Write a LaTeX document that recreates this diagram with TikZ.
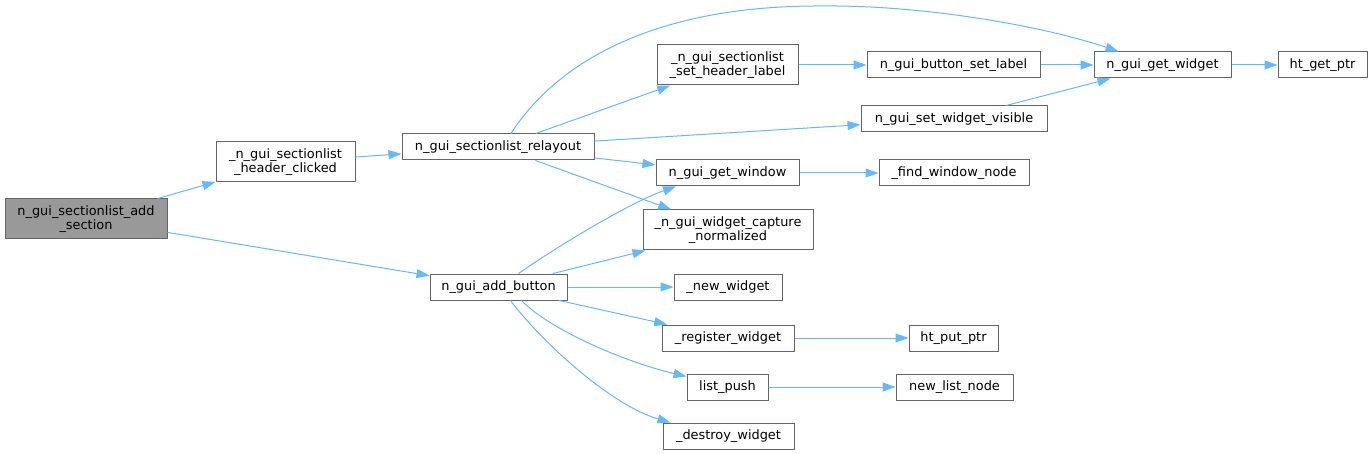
\documentclass[tikz,border=0pt]{standalone}
\usepackage{fontspec}
\setmainfont{DejaVu Sans}
\usetikzlibrary{arrows.meta}
\definecolor{edgec}{HTML}{63B8FF}
\definecolor{boxc}{HTML}{666666}
\definecolor{hl}{HTML}{999999}
\begin{document}
\begin{tikzpicture}[x=1pt,y=-1pt,
  fn/.style={draw=boxc,fill=white,line width=1pt,inner sep=0pt,align=center,
    font=\fontsize{12.9}{14}\selectfont,minimum height=26pt},
  fn2/.style={fn,minimum height=40pt},
  e/.style={draw=edgec,line width=1pt,-{Triangle[length=13pt,width=9pt]}}]
\useasboundingbox (0,0) rectangle (1372,454);
% nodes
\node[fn2,fill=hl,minimum width=162pt] (addsec) at (86,219) {n\_gui\_sectionlist\_add\\\_section};
\node[fn2,minimum width=139pt] (hdr) at (285.5,162) {\_n\_gui\_sectionlist\\\_header\_clicked};
\node[fn,minimum width=192pt] (relayout) at (498,147) {n\_gui\_sectionlist\_relayout};
\node[fn,minimum width=137pt] (addbtn) at (498.5,287) {n\_gui\_add\_button};
\node[fn2,minimum width=141pt] (sethdr) at (727.5,65) {\_n\_gui\_sectionlist\\\_set\_header\_label};
\node[fn,minimum width=173pt] (btnlbl) at (953.5,65) {n\_gui\_button\_set\_label};
\node[fn,minimum width=137pt] (getw) at (1162.5,65) {n\_gui\_get\_widget};
\node[fn,minimum width=89pt] (htget) at (1322.5,65) {ht\_get\_ptr};
\node[fn,minimum width=186pt] (visible) at (954,119) {n\_gui\_set\_widget\_visible};
\node[fn,minimum width=143pt] (getwin) at (727.5,173) {n\_gui\_get\_window};
\node[fn,minimum width=150pt] (findwin) at (954,173) {\_find\_window\_node};
\node[fn2,minimum width=170pt] (capture) at (728,230) {\_n\_gui\_widget\_capture\\\_normalized};
\node[fn,minimum width=108pt] (newwidget) at (728,287) {\_new\_widget};
\node[fn,minimum width=132pt] (register) at (728,338) {\_register\_widget};
\node[fn,minimum width=89pt] (htput) at (953.5,338) {ht\_put\_ptr};
\node[fn,minimum width=81pt] (listpush) at (727.5,387) {list\_push};
\node[fn,minimum width=117pt] (newlist) at (954.5,387) {new\_list\_node};
\node[fn,minimum width=131pt] (destroy) at (728.5,436) {\_destroy\_widget};
% edges
\draw[e] (addsec) -- (hdr);
\draw[e] (addsec) -- (addbtn);
\draw[e] (hdr) -- (relayout);
\draw[e] (relayout) -- (sethdr);
\draw[e] (relayout) -- (visible);
\draw[e] (relayout) -- (getwin);
\draw[e] (relayout) -- (capture);
\draw[e] ([xshift=13pt]relayout.north) .. controls (555,65) and (650,5) .. (823,6)
  .. controls (920,5) and (1040,25) .. ([xshift=-44pt]getw.north);
\draw[e] ([xshift=20pt]addbtn.north) .. controls (558,246) and (631,202) .. ([xshift=-51.5pt]getwin.south);
\draw[e] (addbtn) -- (capture);
\draw[e] (addbtn) -- (newwidget);
\draw[e] (addbtn) -- (register);
\draw[e] ([xshift=23pt]addbtn.south) .. controls (550,330) and (625,362) .. ([yshift=-3pt]listpush.north west);
\draw[e] ([xshift=12pt]addbtn.south) .. controls (540,340) and (610,405) .. ([xshift=-58pt]destroy.north);
\draw[e] (sethdr) -- (btnlbl);
\draw[e] (btnlbl) -- (getw);
\draw[e] (visible) -- (getw);
\draw[e] (getw) -- (htget);
\draw[e] (getwin) -- (findwin);
\draw[e] (register) -- (htput);
\draw[e] (listpush) -- (newlist);
\end{tikzpicture}
\end{document}
